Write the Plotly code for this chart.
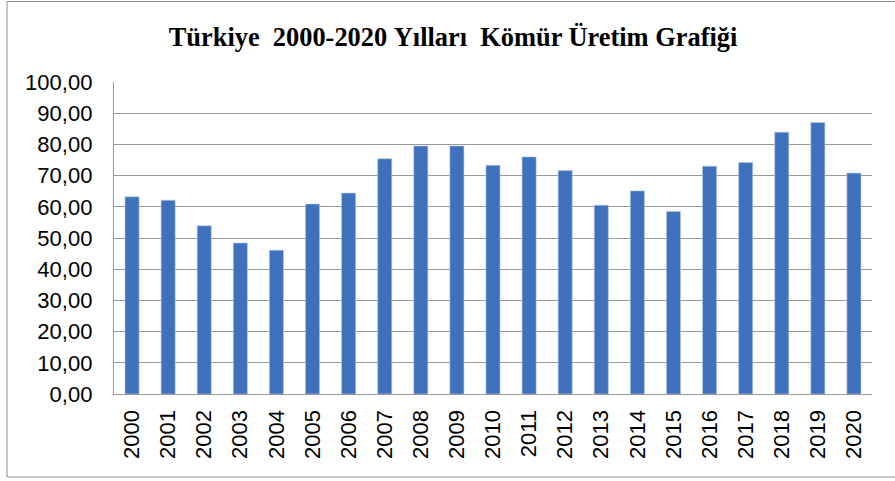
import plotly.graph_objects as go

years = [str(y) for y in range(2000, 2021)]
production = [63.2, 62.1, 53.9, 48.4, 46.1, 60.9, 64.4, 75.4, 79.5, 79.5,
              73.3, 76.0, 71.6, 60.5, 65.1, 58.5, 73.0, 74.2, 83.9, 87.0, 70.8]
y_ticks = [0, 10, 20, 30, 40, 50, 60, 70, 80, 90, 100]
title_text = "Türkiye\u00a0 2000-2020\u00a0Yılları\u00a0 Kömür Üretim Grafiği"

W, H = 895, 481
ML, MR, MT, MB = 114, 23, 82, 87

fig = go.Figure(go.Bar(
    x=years, y=production,
    marker=dict(color="#4071BD", line=dict(color="#B4C7E7", width=0.6)),
    width=0.39,
))

pw = W - ML - MR
ph = H - MT - MB
def px2paper_x(px):
    return (px - ML) / pw
def px2paper_y(py):
    return (H - MB - py) / ph

fig.add_shape(type="rect", xref="paper", yref="paper",
              x0=px2paper_x(7), x1=px2paper_x(896),
              y0=px2paper_y(477), y1=px2paper_y(1.5),
              line=dict(color="#8C8C8C", width=1), fillcolor="rgba(0,0,0,0)",
              layer="below")

fig.update_layout(
    width=W, height=H,
    margin=dict(l=ML, r=MR, t=MT, b=MB, autoexpand=False),
    paper_bgcolor="white", plot_bgcolor="white",
    separators=",.",
    showlegend=False,
    title=dict(text=title_text, x=453 / W, xref="container", xanchor="center",
               y=1 - 37 / H, yref="container", yanchor="middle",
               font=dict(family="Liberation Serif", size=26.4, color="black", weight="bold")),
    bargap=0.61,
    xaxis=dict(type="category", tickangle=-90, showgrid=False, automargin=False,
               showline=True, linecolor="#9A9A9A", linewidth=1.4,
               tickfont=dict(family="Liberation Sans", size=22, color="black"),
               ticks="", ticklabelstandoff=6),
    yaxis=dict(range=[0, 100], tickvals=y_ticks, tickformat=".2f", automargin=False,
               showgrid=True, gridcolor="#9A9A9A", gridwidth=1.4,
               showline=True, linecolor="#9A9A9A", linewidth=1.4,
               zeroline=False,
               tickfont=dict(family="Liberation Sans", size=22, color="black"),
               ticks="", ticklabelstandoff=16),
)

fig.write_html("out.html", config={"displayModeBar": False},
               post_script="document.body.style.margin='0';document.body.style.overflow='hidden';")
